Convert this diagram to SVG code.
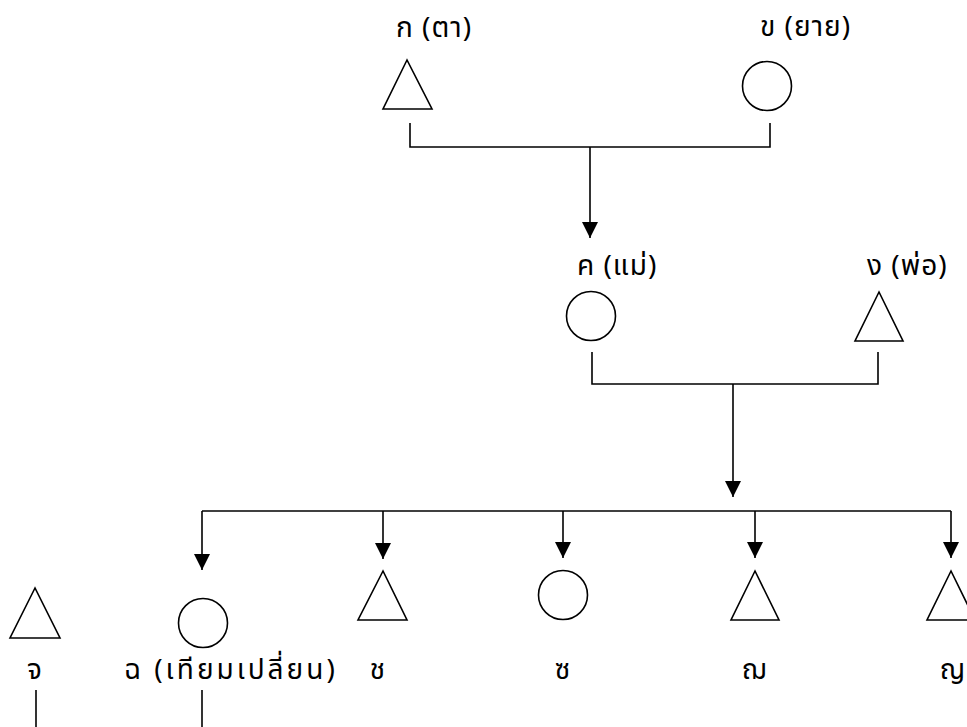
<svg xmlns="http://www.w3.org/2000/svg" width="967" height="727" viewBox="0 0 967 727">
<defs>
<style>
.s{fill:none;stroke:#000;stroke-width:1.6}
.c{fill:none;stroke:#000;stroke-width:1.6}
.t{font-family:"Noto Sans Thai","Noto Sans","DejaVu Sans",sans-serif;font-size:28px;font-weight:400;letter-spacing:1px;fill:#000}
.w{letter-spacing:3px}
.m{text-anchor:middle}
</style>
<marker id="ah" markerUnits="userSpaceOnUse" markerWidth="16" markerHeight="16" refX="16" refY="8" orient="auto" viewBox="0 0 16 16">
<path d="M0,0 L16,8 L0,16 z" fill="#000"/>
</marker>
</defs>
<rect width="967" height="727" fill="#fff"/>
<g id="connectors">
<path class="c" d="M410,123 V147 H770 V123"/>
<path class="c" d="M590,147 V238" marker-end="url(#ah)"/>
<path class="c" d="M592,352 V384 H878 V352"/>
<path class="c" d="M733,384 V497" marker-end="url(#ah)"/>
<path class="c" d="M202,511 H951"/>
<path class="c" d="M202,511 V570" marker-end="url(#ah)"/>
<path class="c" d="M383,511 V559" marker-end="url(#ah)"/>
<path class="c" d="M563,511 V558" marker-end="url(#ah)"/>
<path class="c" d="M755,511 V558" marker-end="url(#ah)"/>
<path class="c" d="M951,511 V558" marker-end="url(#ah)"/>
<path class="c" d="M36,690 V727"/>
<path class="c" d="M202,690 V727"/>
</g>
<g id="node-ko">
<text class="t" x="396" y="37">ก (ตา)</text>
<polygon class="s" points="407,60 383,109 432,109"/>
</g>
<g id="node-kho">
<text class="t" x="760" y="36">ข (ยาย)</text>
<circle class="s" cx="767" cy="86" r="24.5"/>
</g>
<g id="node-kho-khwai">
<text class="t" x="577" y="275">ค  (แม่)</text>
<circle class="s" cx="591" cy="316" r="24.5"/>
</g>
<g id="node-ngo">
<text class="t" x="867" y="275">ง (พ่อ)</text>
<polygon class="s" points="879,292 855,341 903,341"/>
</g>
<g id="node-cho">
<polygon class="s" points="35,588 10,638 60,638"/>
<text class="t m" x="35" y="679">จ</text>
</g>
<g id="node-ching">
<circle class="s" cx="203" cy="623" r="24.5"/>
<text class="t w" x="124" y="679">ฉ (เทียมเปลี่ยน)</text>
</g>
<g id="node-chang">
<polygon class="s" points="383,571 358,620 407,620"/>
<text class="t m" x="378" y="679">ช</text>
</g>
<g id="node-so">
<circle class="s" cx="563" cy="595" r="24.5"/>
<text class="t m" x="563" y="679">ซ</text>
</g>
<g id="node-choe">
<polygon class="s" points="755,571 731,620 779,620"/>
<text class="t m" x="755" y="679">ฌ</text>
</g>
<g id="node-yo">
<polygon class="s" points="951,571 927,620 975,620"/>
<text class="t m" x="953" y="679">ญ</text>
</g>
</svg>
